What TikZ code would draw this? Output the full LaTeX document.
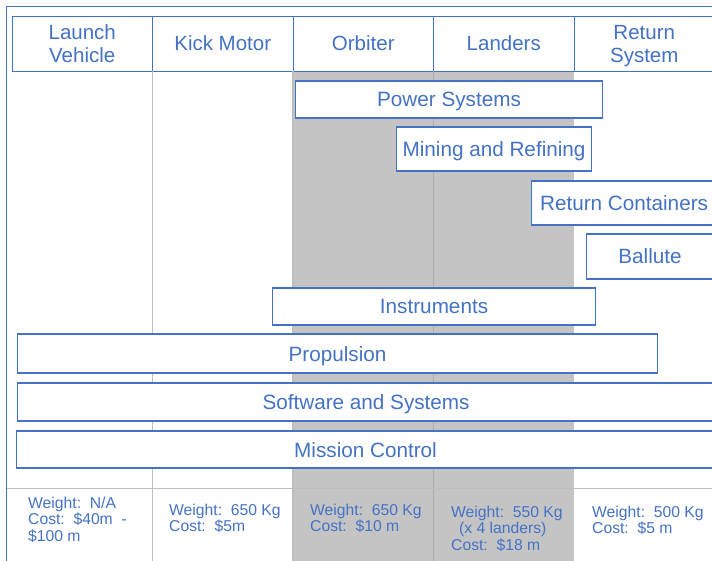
\documentclass[tikz,border=0pt]{standalone}
\usepackage{fontspec}
\setmainfont{Liberation Sans}
\usetikzlibrary{positioning}
\definecolor{planBlue}{HTML}{4472C4}
\definecolor{planShade}{HTML}{C4C4C4}
\definecolor{planRule}{HTML}{BEBEBE}
\definecolor{planRuleDark}{HTML}{ADADAD}

\begin{document}
\begin{tikzpicture}[
    x=1pt, y=-1pt,
    headcell/.style={
        rectangle,
        draw=planBlue,
        fill=white,
        text=planBlue,
        align=center,
        minimum width=140.5pt,
        minimum height=55pt,
        inner sep=0pt,
        outer sep=0pt,
        text depth=0pt,
        font=\fontsize{20.5}{23}\selectfont,
        line width=0.9pt
    },
    bar/.style={
        rectangle,
        draw=planBlue,
        fill=white,
        text=planBlue,
        anchor=west,
        inner sep=0pt,
        text depth=0pt,
        font=\fontsize{20.7}{23}\selectfont,
        line width=1.1pt
    },
    info/.style={
        anchor=north west,
        inner sep=0pt,
        text=planBlue,
        align=left,
        font=\fontsize{15.7}{16.5}\selectfont
    },
    colrule/.style={
        draw=planRule,
        line width=1.3pt
    }
]
\useasboundingbox (0,0) rectangle (712,561);
\clip (0,0) rectangle (712,561);

% Shaded columns (orbiter and landers)
\fill[planShade] (293,71) rectangle (574,561);

% Header row
\node[headcell] (launch) at (82.25,43.5) {Launch\\Vehicle};
\node[headcell, right=0pt of launch] (kick) {Kick Motor};
\node[headcell, right=0pt of kick] (orbiter) {Orbiter};
\node[headcell, right=0pt of orbiter] (landers) {Landers};
\node[headcell, right=0pt of landers] (return) {Return\\System};

% Column rules
\draw[colrule] (kick.south west) -- (kick.south west |- 0,561);
\draw[colrule] (orbiter.south west) -- (orbiter.south west |- 0,561);
\draw[colrule, draw=planRuleDark] (landers.south west) -- (landers.south west |- 0,561);
\draw[draw=planRule, line width=1pt] (6,488) -- (712,488);

% Outer frame
\draw[planBlue, line width=0.8pt] (6,561) -- (6,6) -- (712,6);

% Subsystem bars
\node[bar, minimum width=307pt, minimum height=37pt] (power) at (295,99.5) {Power Systems};
\node[bar, minimum width=195pt, minimum height=44pt] (mining) at (396,149) {Mining and Refining};
\node[bar, minimum width=185pt, minimum height=44pt] (containers) at (531,203) {Return Containers};
\node[bar, minimum width=127pt, minimum height=45pt] (ballute) at (586,256.5) {Ballute};
\node[bar, minimum width=323pt, minimum height=37pt] (instruments) at (272,306.5) {Instruments};
\node[bar, minimum width=640pt, minimum height=39pt] (propulsion) at (17,353.5) {Propulsion};
\node[bar, minimum width=697pt, minimum height=38pt] (software) at (17,402) {Software and Systems};
\node[bar, minimum width=698pt, minimum height=37pt] (mission) at (16,449.5) {Mission Control};

% Weight and cost per element
\node[info] (lvcost) at (28,496.6) {Weight:~~N/A\\Cost:~~\$40m~~-\\\$100 m};
\node[info] (kickcost) at (169,503.6) {Weight:~~650 Kg\\Cost:~~\$5m};
\node[info] (orbcost) at (310,503.6) {Weight:~~650 Kg\\Cost:~~\$10 m};
\node[info] (landcost) at (451,505.6) {Weight:~~550 Kg\\\hspace*{8pt}(x 4 landers)\\Cost:~~\$18 m};
\node[info] (retcost) at (592,505.6) {Weight:~~500 Kg\\Cost:~~\$5 m};

\end{tikzpicture}
\end{document}
